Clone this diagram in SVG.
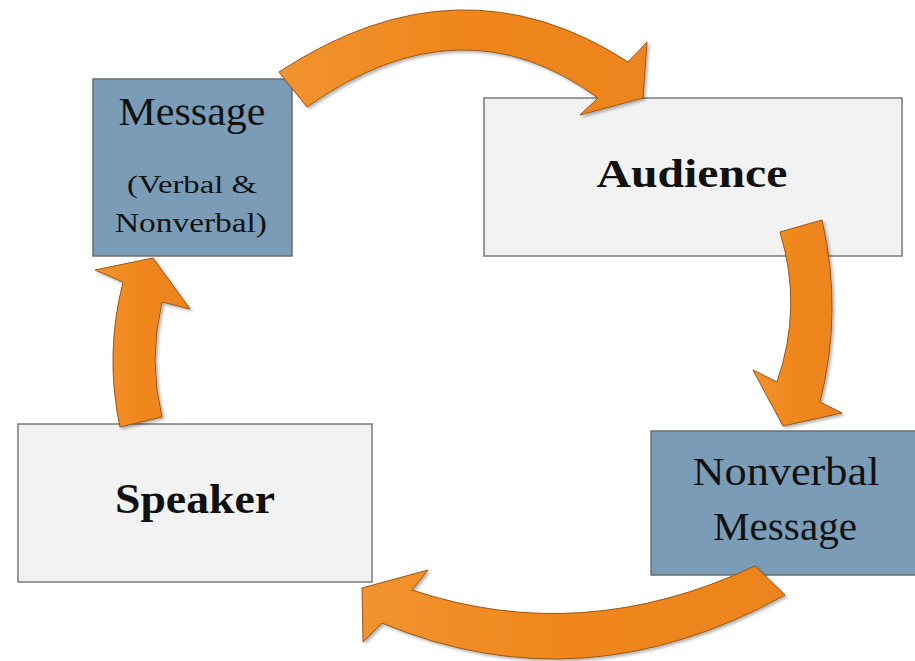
<svg xmlns="http://www.w3.org/2000/svg" width="915" height="661" viewBox="0 0 915 661">
  <style>
    .blue { fill: #7b9cb6; stroke: #6e6e6e; stroke-width: 1.5; }
    .light { fill: #f2f2f2; stroke: #7a7a7a; stroke-width: 1.5; }
    .arrow { fill: url(#orange); stroke: #9a5512; stroke-width: 1; stroke-linejoin: miter; filter: url(#shadow); }
    .t { font-family: "Liberation Serif", "Times New Roman", serif; fill: #111; text-anchor: middle; }
    .b { font-weight: bold; }
  </style>
  <defs>
    <linearGradient id="orange" x1="0" y1="0" x2="1" y2="0">
      <stop offset="0" stop-color="#f29330"/>
      <stop offset="0.5" stop-color="#f0861a"/>
      <stop offset="1" stop-color="#ec8420"/>
    </linearGradient>
    <filter id="shadow" x="-20%" y="-20%" width="140%" height="140%">
      <feDropShadow dx="2" dy="2" stdDeviation="1.5" flood-color="#000" flood-opacity="0.3"/>
    </filter>
  </defs>

  <g id="message">
    <rect class="blue" x="93" y="79" width="199" height="177"/>
    <text class="t" x="192" y="125" font-size="40" textLength="147" lengthAdjust="spacingAndGlyphs">Message</text>
    <text class="t" x="192" y="193" font-size="26" textLength="130" lengthAdjust="spacingAndGlyphs">(Verbal &amp;</text>
    <text class="t" x="191" y="232" font-size="28" textLength="152" lengthAdjust="spacingAndGlyphs">Nonverbal)</text>
  </g>

  <g id="audience">
    <rect class="light" x="484" y="98" width="418" height="158"/>
    <text class="t b" x="692" y="187" font-size="40" textLength="191" lengthAdjust="spacingAndGlyphs">Audience</text>
  </g>

  <g id="speaker">
    <rect class="light" x="18" y="424" width="354" height="158"/>
    <text class="t b" x="195" y="513" font-size="42" textLength="160" lengthAdjust="spacingAndGlyphs">Speaker</text>
  </g>

  <g id="nonverbal">
    <rect class="blue" x="651" y="431" width="270" height="144"/>
    <text class="t" x="786" y="485" font-size="40" textLength="187" lengthAdjust="spacingAndGlyphs">Nonverbal</text>
    <text class="t" x="785" y="540" font-size="40" textLength="144" lengthAdjust="spacingAndGlyphs">Message</text>
  </g>

  <g id="connectors">
    <path class="arrow" d="M279,72 Q460,-47 628,62 L647,42 L643,98 L580,115 L598,98 Q461.5,-2.5 307,107 Z"/>
    <path class="arrow" d="M780,232 L822,220 Q843,311 820,402 L842,413 L783,426 L753,370 L777,382 Q803,307 780,232 Z"/>
    <path class="arrow" d="M755,566 L785,595 Q582.5,707 382,623 L363,642 L362,588 L428,570 L412,590 Q582.5,647 755,566 Z"/>
    <path class="arrow" d="M120,427 L162,417 Q148,360 162,302 L190,309 L153,258 L95,270 L123,282 Q104.5,355 120,427 Z"/>
  </g>
</svg>
